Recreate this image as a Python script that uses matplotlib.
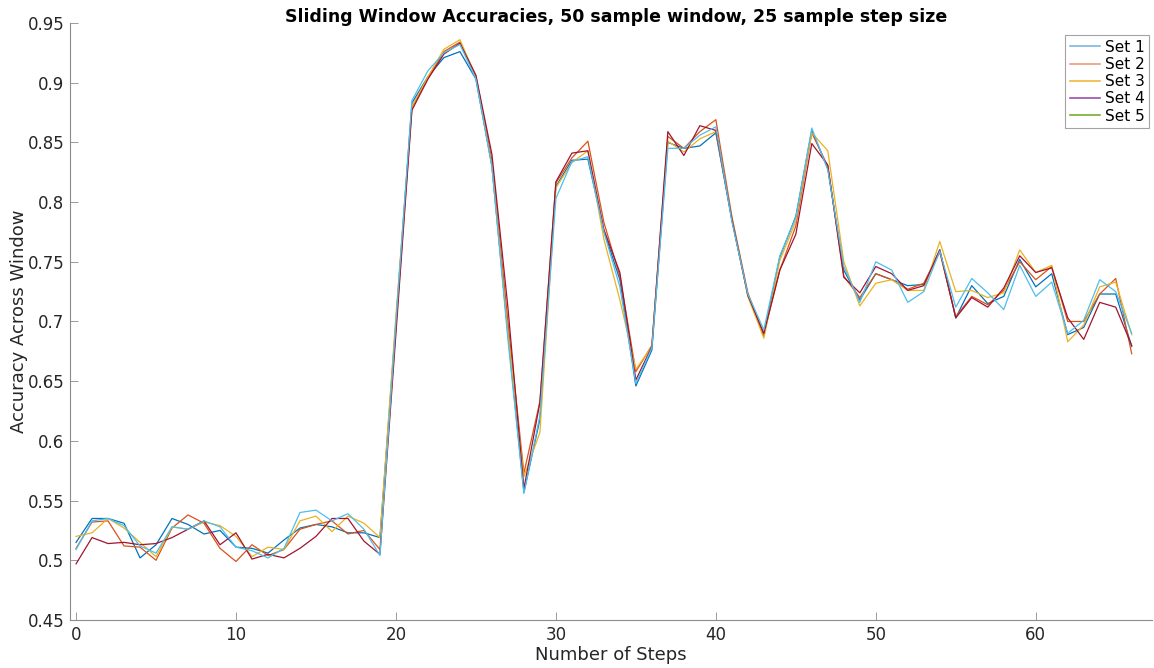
import matplotlib
matplotlib.use('Agg')
import matplotlib.pyplot as plt
from matplotlib.lines import Line2D
from matplotlib.ticker import FuncFormatter

# values, steps 0..66
set1 = [0.515, 0.535, 0.535, 0.531, 0.502, 0.513, 0.535, 0.530, 0.522, 0.525,
        0.511, 0.510, 0.506, 0.517, 0.527, 0.530, 0.528, 0.523, 0.523, 0.519,
        0.700, 0.883, 0.905, 0.921, 0.926, 0.903, 0.830, 0.690, 0.557, 0.618,
        0.813, 0.835, 0.836, 0.776, 0.735, 0.646, 0.676, 0.850, 0.845, 0.847,
        0.858, 0.785, 0.722, 0.688, 0.754, 0.788, 0.860, 0.828, 0.743, 0.718,
        0.740, 0.735, 0.730, 0.731, 0.760, 0.703, 0.730, 0.715, 0.721, 0.752,
        0.729, 0.740, 0.689, 0.695, 0.723, 0.723, 0.679]
set2 = [0.510, 0.532, 0.533, 0.512, 0.511, 0.500, 0.527, 0.538, 0.531, 0.510,
        0.499, 0.513, 0.504, 0.509, 0.526, 0.530, 0.533, 0.522, 0.525, 0.509,
        0.695, 0.879, 0.904, 0.926, 0.934, 0.906, 0.835, 0.700, 0.573, 0.633,
        0.816, 0.837, 0.851, 0.783, 0.738, 0.658, 0.680, 0.855, 0.845, 0.859,
        0.869, 0.788, 0.724, 0.689, 0.743, 0.780, 0.858, 0.830, 0.738, 0.720,
        0.740, 0.735, 0.727, 0.732, 0.758, 0.704, 0.721, 0.714, 0.726, 0.750,
        0.735, 0.746, 0.700, 0.700, 0.723, 0.736, 0.673]
set3 = [0.520, 0.523, 0.535, 0.527, 0.515, 0.503, 0.528, 0.526, 0.532, 0.529,
        0.520, 0.503, 0.511, 0.509, 0.533, 0.537, 0.524, 0.537, 0.531, 0.519,
        0.705, 0.880, 0.905, 0.928, 0.936, 0.905, 0.830, 0.690, 0.570, 0.607,
        0.812, 0.833, 0.843, 0.769, 0.718, 0.660, 0.679, 0.851, 0.842, 0.853,
        0.859, 0.787, 0.721, 0.686, 0.751, 0.784, 0.858, 0.843, 0.750, 0.713,
        0.732, 0.735, 0.726, 0.726, 0.767, 0.725, 0.726, 0.720, 0.724, 0.760,
        0.741, 0.747, 0.683, 0.697, 0.729, 0.733, 0.689]
set4 = [0.497, 0.519, 0.514, 0.515, 0.513, 0.514, 0.519, 0.526, 0.533, 0.513,
        0.523, 0.501, 0.505, 0.502, 0.510, 0.520, 0.535, 0.535, 0.516, 0.505,
        0.690, 0.877, 0.903, 0.924, 0.933, 0.906, 0.840, 0.712, 0.560, 0.632,
        0.817, 0.841, 0.843, 0.777, 0.741, 0.651, 0.679, 0.859, 0.839, 0.864,
        0.860, 0.786, 0.722, 0.690, 0.743, 0.773, 0.849, 0.831, 0.737, 0.724,
        0.746, 0.740, 0.726, 0.730, 0.760, 0.703, 0.720, 0.712, 0.728, 0.755,
        0.741, 0.745, 0.703, 0.685, 0.716, 0.712, 0.680]
set5 = [0.509, 0.533, 0.535, 0.529, 0.512, 0.506, 0.528, 0.526, 0.533, 0.528,
        0.511, 0.508, 0.502, 0.510, 0.540, 0.542, 0.533, 0.539, 0.526, 0.504,
        0.700, 0.885, 0.910, 0.925, 0.932, 0.903, 0.830, 0.685, 0.556, 0.621,
        0.803, 0.834, 0.838, 0.775, 0.729, 0.648, 0.678, 0.845, 0.845, 0.856,
        0.863, 0.784, 0.723, 0.693, 0.755, 0.787, 0.862, 0.827, 0.746, 0.716,
        0.750, 0.743, 0.716, 0.725, 0.759, 0.712, 0.736, 0.724, 0.710, 0.747,
        0.721, 0.733, 0.690, 0.701, 0.735, 0.725, 0.690]

labels = ['Set 1', 'Set 2', 'Set 3', 'Set 4', 'Set 5']
line_colors = ['#0072BD', '#D95319', '#EDB120', '#A2142F', '#4DBEEE']
legend_colors = ['#7DB8E0', '#EC9B7E', '#F0B73A', '#9B4FAE', '#77AC30']

steps = list(range(len(set1)))
all_sets = [set1, set2, set3, set4, set5]

plt.rcParams['font.family'] = 'DejaVu Sans'

fig = plt.figure(figsize=(11.54, 6.68), dpi=100)
ax = fig.add_axes([0.0607, 0.0719, 0.938, 0.8937])

for data, c in zip(all_sets, line_colors):
    ax.plot(steps, data, color=c, linewidth=0.9)

ax.set_xlim(-0.375, 67.3)
ax.set_ylim(0.45, 0.95)
ax.set_xticks(range(0, 61, 10))
ax.set_yticks([0.45, 0.5, 0.55, 0.6, 0.65, 0.7, 0.75, 0.8, 0.85, 0.9, 0.95])
ax.yaxis.set_major_formatter(FuncFormatter(lambda v, p: '%g' % round(v, 2)))

for side in ['top', 'right']:
    ax.spines[side].set_visible(False)
for side in ['left', 'bottom']:
    ax.spines[side].set_color('#8c8c8c')
    ax.spines[side].set_linewidth(0.8)
ax.tick_params(direction='in', length=6, width=0.6, color='#8c8c8c',
               labelsize=12, labelcolor='#262626', pad=4)

ax.set_xlabel('Number of Steps', fontsize=13, color='#262626', labelpad=2)
ax.set_ylabel('Accuracy Across Window', fontsize=13, color='#262626', labelpad=0)
# title sits right on the top edge of the plot area
fig.text(0.534, 0.974, 'Sliding Window Accuracies, 50 sample window, 25 sample step size',
         fontsize=12.5, fontweight='bold', ha='center', va='center')

handles = [Line2D([], [], color=c, linewidth=1.2) for c in legend_colors]
leg = ax.legend(handles, labels, loc='upper right', bbox_to_anchor=(1.0, 0.985),
                fontsize=11, frameon=True, fancybox=False, handlelength=2.0,
                handletextpad=0.3, borderpad=0.3, labelspacing=0.15,
                borderaxespad=0.2)
leg.get_frame().set_edgecolor('#8c8c8c')
leg.get_frame().set_linewidth(0.8)

plt.savefig('out.png', dpi=100)
